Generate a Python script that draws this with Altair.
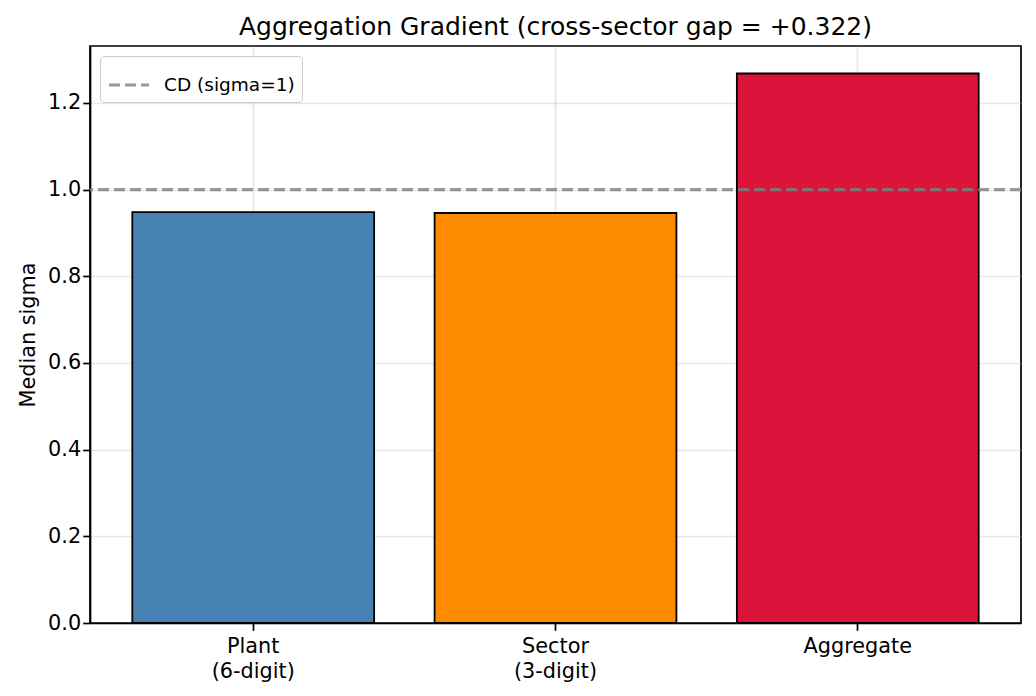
import altair as alt
import pandas as pd

categories = ["Plant\n(6-digit)", "Sector\n(3-digit)", "Aggregate"]
median_sigma = [0.948, 0.946, 1.268]
bar_colors = ["#4682B4", "#FF8C00", "#DC143C"]
ref_value = [1.0]
ref_label = ["CD (sigma=1)"]
y_ticks = [0.0, 0.2, 0.4, 0.6, 0.8, 1.0, 1.2]
y_max = 1.3314
title_text = "Aggregation Gradient (cross-sector gap = +0.322)"

FONT = "DejaVu Sans"

bars_df = pd.DataFrame({"category": categories, "sigma": median_sigma, "color": bar_colors})
ref_df = pd.DataFrame({"y": ref_value, "label": ref_label})

x_enc = alt.X(
    "category:N",
    sort=categories,
    scale=alt.Scale(paddingInner=0.2, paddingOuter=0.14),
    axis=alt.Axis(
        title=None,
        labelAngle=0,
        labelExpr="split(datum.label, '\\n')",
        labelLineHeight=25,
        labelPadding=6,
        grid=True,
        bandPosition=0.5,
    ),
)
y_enc = alt.Y(
    "sigma:Q",
    scale=alt.Scale(domain=[0, y_max], nice=False, zero=True),
    axis=alt.Axis(title="Median sigma", values=y_ticks, format=".1f", titlePadding=9),
)

bars = alt.Chart(bars_df).mark_bar(stroke="black", strokeWidth=1.8).encode(
    x=x_enc,
    y=y_enc,
    fill=alt.Fill("color:N", scale=None),
)

rule = alt.Chart(ref_df).mark_rule(strokeDash=[11, 5], strokeWidth=3.1, opacity=0.8).encode(
    y=alt.Y("y:Q"),
    stroke=alt.Stroke(
        "label:N",
        scale=alt.Scale(range=["#808080"]),
        legend=alt.Legend(
            title=None,
            orient="top-left",
            offset=10,
            symbolType="stroke",
            symbolDash=[11, 5],
            symbolStrokeWidth=3.1,
            symbolSize=1600,
            symbolOpacity=0.8,
            labelFontSize=18.5,
            labelFont=FONT,
            labelColor="black",
            labelOffset=13,
            padding=7,
            fillColor="white",
            strokeColor="#cccccc",
            cornerRadius=4,
        ),
    ),
)

chart = (
    alt.layer(bars, rule)
    .properties(
        width=931,
        height=577,
        autosize="none",
        padding={"left": 82, "top": 38, "right": 7, "bottom": 65},
        title=alt.TitleParams(
            text=title_text,
            font=FONT,
            fontSize=25,
            fontWeight="normal",
            color="black",
            anchor="middle",
            offset=6,
        ),
        background="white",
    )
    .configure_view(stroke="black", strokeWidth=1.7)
    .configure_axis(
        zindex=1,
        labelFont=FONT,
        labelFontSize=20.8,
        labelColor="black",
        titleFont=FONT,
        titleFontSize=20.8,
        titleFontWeight="normal",
        titleColor="black",
        domainColor="black",
        domainWidth=1.7,
        tickColor="black",
        tickWidth=1.7,
        tickSize=7.3,
        gridColor="#b0b0b0",
        gridOpacity=0.3,
        gridWidth=1.7,
    )
)

chart.save("out.html", embed_options={"renderer": "svg", "actions": False})
